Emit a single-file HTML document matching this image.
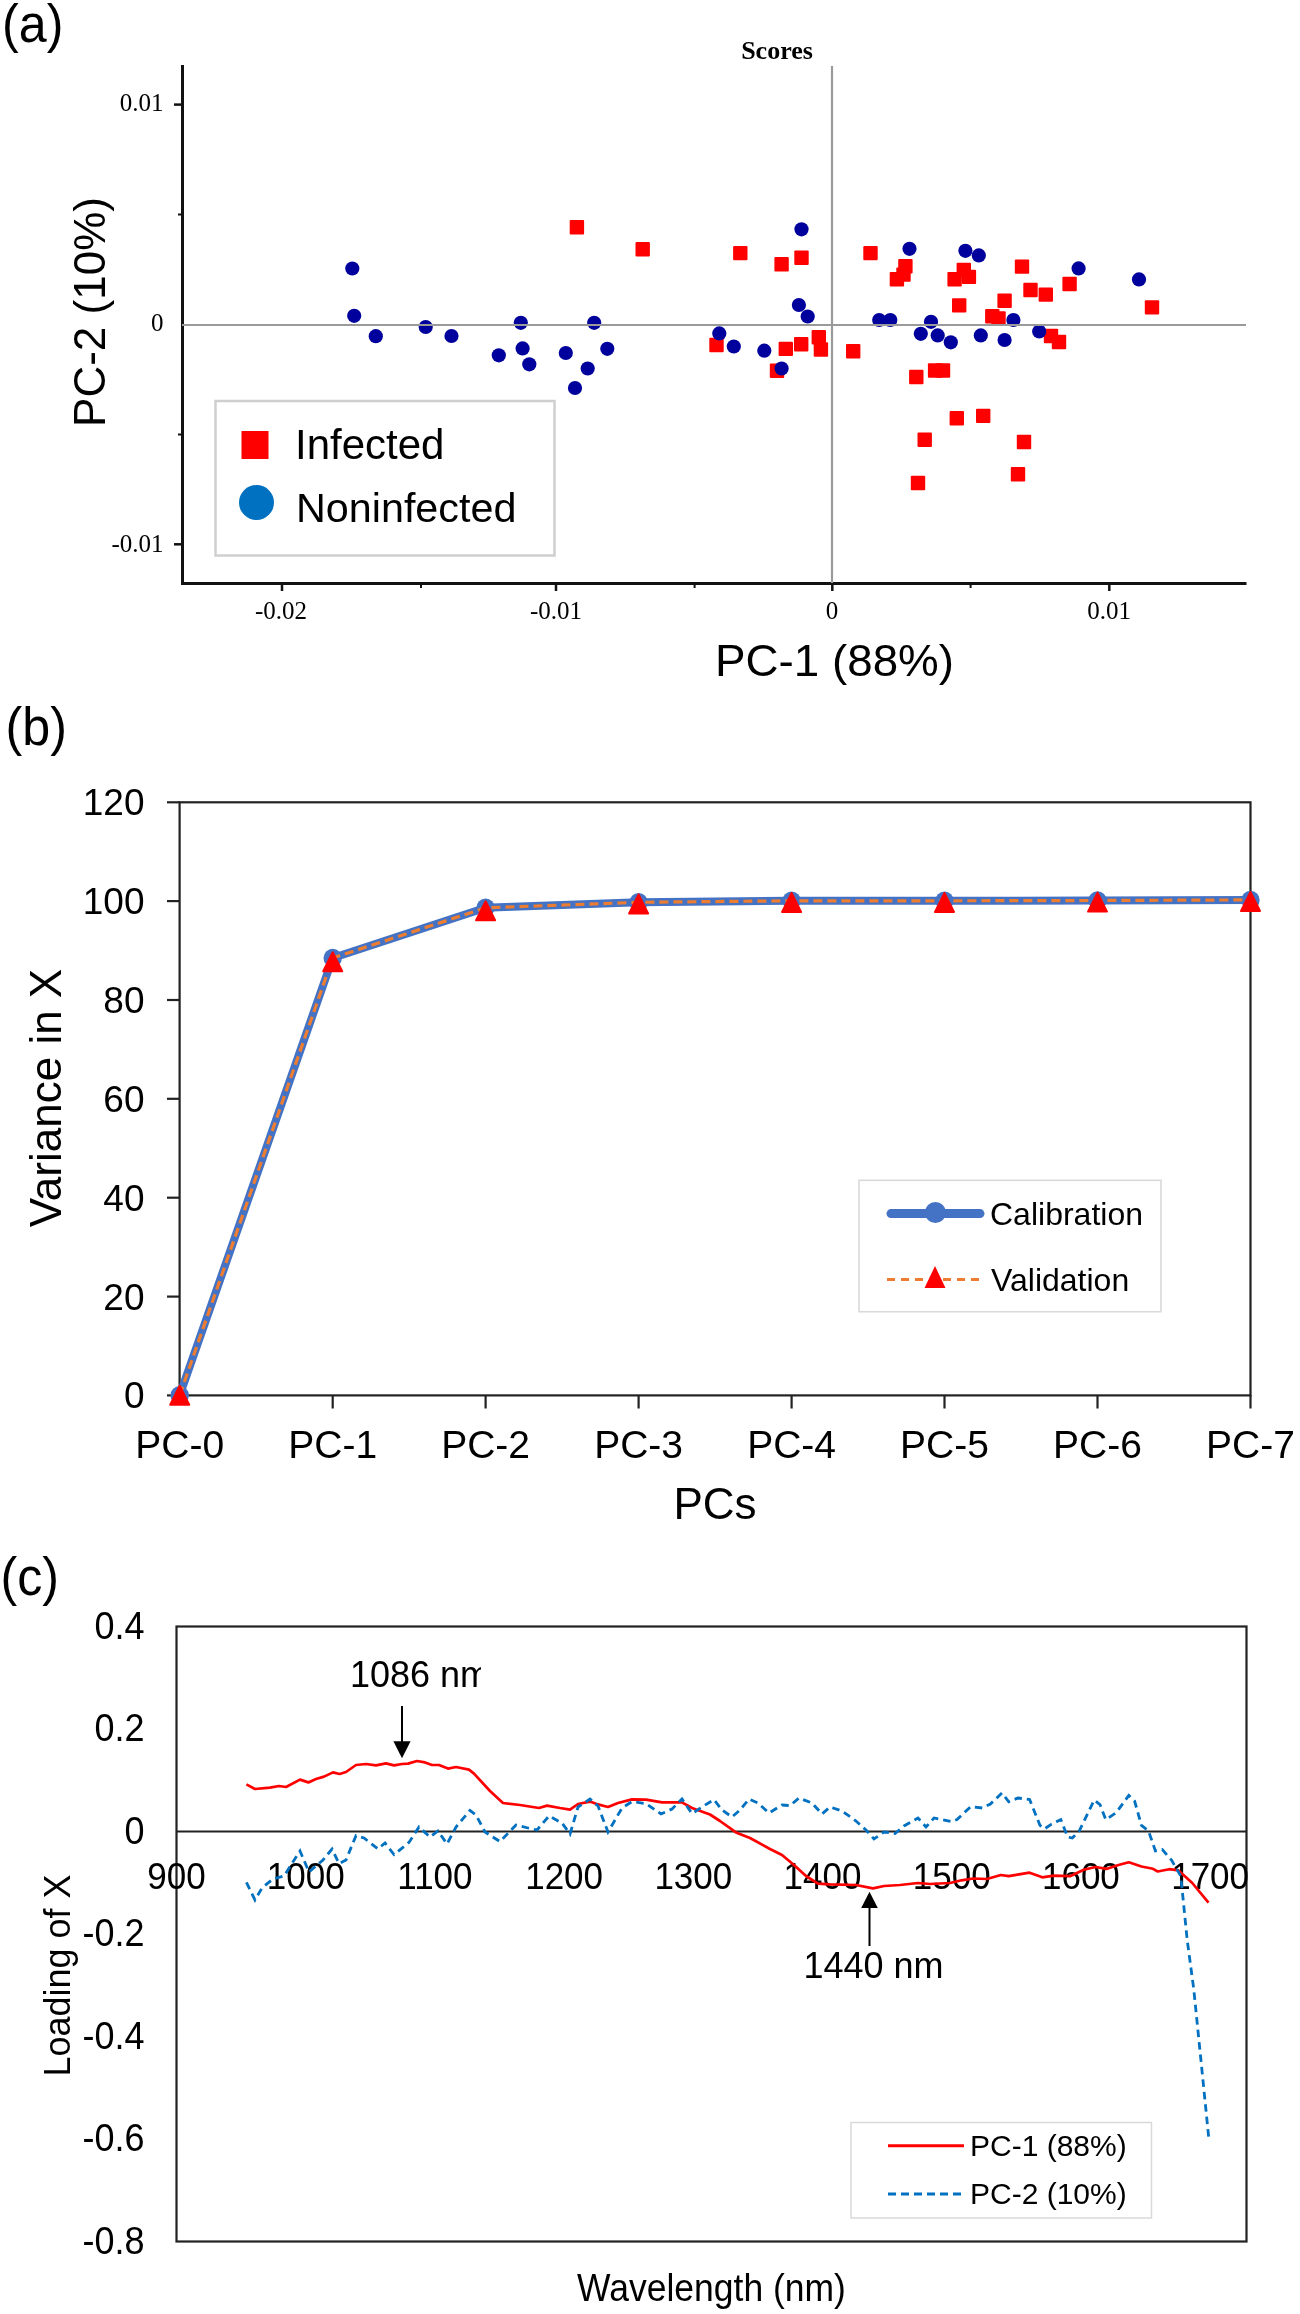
<!DOCTYPE html>
<html><head><meta charset="utf-8"><title>Figure</title>
<style>html,body{margin:0;padding:0;background:#fff;}body{width:1300px;height:2314px;overflow:hidden;}svg{display:block;filter:blur(0.45px);}</style>
</head><body>
<svg width="1300" height="2314" viewBox="0 0 1300 2314">
<rect x="0" y="0" width="1300" height="2314" fill="#fff"/>
<text transform="translate(2,42) scale(0.93,1)" font-family='"Liberation Sans", sans-serif' font-size="54">(a)</text>
<text x="777" y="59" text-anchor="middle" font-family='"Liberation Serif", serif' font-weight="bold" font-size="26">Scores</text>
<polyline points="182.5,65 182.5,583.5 1246.5,583.5" fill="none" stroke="#111" stroke-width="3"/>
<line x1="174" y1="104.6" x2="182" y2="104.6" stroke="#111" stroke-width="2.5"/>
<line x1="174" y1="544.3" x2="182" y2="544.3" stroke="#111" stroke-width="2.5"/>
<line x1="178" y1="214.5" x2="182" y2="214.5" stroke="#111" stroke-width="2"/>
<line x1="178" y1="434.5" x2="182" y2="434.5" stroke="#111" stroke-width="2"/>
<line x1="282.0" y1="583" x2="282.0" y2="591" stroke="#111" stroke-width="2.5"/>
<line x1="556.0" y1="583" x2="556.0" y2="591" stroke="#111" stroke-width="2.5"/>
<line x1="832.3" y1="583" x2="832.3" y2="591" stroke="#111" stroke-width="2.5"/>
<line x1="1109.3" y1="583" x2="1109.3" y2="591" stroke="#111" stroke-width="2.5"/>
<line x1="421.0" y1="583" x2="421.0" y2="588" stroke="#111" stroke-width="2"/>
<line x1="694.6" y1="583" x2="694.6" y2="588" stroke="#111" stroke-width="2"/>
<line x1="970.6" y1="583" x2="970.6" y2="588" stroke="#111" stroke-width="2"/>
<text x="163.5" y="111" text-anchor="end" font-family='"Liberation Serif", serif' font-size="25">0.01</text>
<text x="163.5" y="331" text-anchor="end" font-family='"Liberation Serif", serif' font-size="25">0</text>
<text x="163.5" y="552" text-anchor="end" font-family='"Liberation Serif", serif' font-size="25">-0.01</text>
<text x="281" y="619" text-anchor="middle" font-family='"Liberation Serif", serif' font-size="25">-0.02</text>
<text x="556" y="619" text-anchor="middle" font-family='"Liberation Serif", serif' font-size="25">-0.01</text>
<text x="832" y="619" text-anchor="middle" font-family='"Liberation Serif", serif' font-size="25">0</text>
<text x="1109" y="619" text-anchor="middle" font-family='"Liberation Serif", serif' font-size="25">0.01</text>
<text transform="translate(834.5,676) scale(1.04,1)" text-anchor="middle" font-family='"Liberation Sans", sans-serif' font-size="44">PC-1 (88%)</text>
<text transform="translate(104.5,312) rotate(-90)" text-anchor="middle" font-family='"Liberation Sans", sans-serif' font-size="44">PC-2 (10%)</text>
<rect x="569.7" y="220.0" width="14.4" height="14.4" rx="1" fill="#ff0000"/>
<rect x="635.5" y="242.0" width="14.4" height="14.4" rx="1" fill="#ff0000"/>
<rect x="733.1" y="245.9" width="14.4" height="14.4" rx="1" fill="#ff0000"/>
<rect x="774.4" y="257.0" width="14.4" height="14.4" rx="1" fill="#ff0000"/>
<rect x="794.3" y="250.5" width="14.4" height="14.4" rx="1" fill="#ff0000"/>
<rect x="863.3" y="245.9" width="14.4" height="14.4" rx="1" fill="#ff0000"/>
<rect x="709.3" y="337.8" width="14.4" height="14.4" rx="1" fill="#ff0000"/>
<rect x="778.6" y="341.7" width="14.4" height="14.4" rx="1" fill="#ff0000"/>
<rect x="794.0" y="337.0" width="14.4" height="14.4" rx="1" fill="#ff0000"/>
<rect x="811.6" y="330.1" width="14.4" height="14.4" rx="1" fill="#ff0000"/>
<rect x="813.7" y="342.3" width="14.4" height="14.4" rx="1" fill="#ff0000"/>
<rect x="769.8" y="363.6" width="14.4" height="14.4" rx="1" fill="#ff0000"/>
<rect x="846.0" y="344.0" width="14.4" height="14.4" rx="1" fill="#ff0000"/>
<rect x="898.2" y="259.0" width="14.4" height="14.4" rx="1" fill="#ff0000"/>
<rect x="896.3" y="267.4" width="14.4" height="14.4" rx="1" fill="#ff0000"/>
<rect x="889.7" y="272.0" width="14.4" height="14.4" rx="1" fill="#ff0000"/>
<rect x="956.6" y="262.8" width="14.4" height="14.4" rx="1" fill="#ff0000"/>
<rect x="961.7" y="269.7" width="14.4" height="14.4" rx="1" fill="#ff0000"/>
<rect x="947.4" y="272.0" width="14.4" height="14.4" rx="1" fill="#ff0000"/>
<rect x="1014.8" y="259.4" width="14.4" height="14.4" rx="1" fill="#ff0000"/>
<rect x="1023.3" y="282.8" width="14.4" height="14.4" rx="1" fill="#ff0000"/>
<rect x="1038.6" y="287.4" width="14.4" height="14.4" rx="1" fill="#ff0000"/>
<rect x="952.0" y="298.2" width="14.4" height="14.4" rx="1" fill="#ff0000"/>
<rect x="997.4" y="293.6" width="14.4" height="14.4" rx="1" fill="#ff0000"/>
<rect x="985.1" y="309.0" width="14.4" height="14.4" rx="1" fill="#ff0000"/>
<rect x="991.3" y="311.3" width="14.4" height="14.4" rx="1" fill="#ff0000"/>
<rect x="1043.8" y="328.8" width="14.4" height="14.4" rx="1" fill="#ff0000"/>
<rect x="1051.8" y="334.8" width="14.4" height="14.4" rx="1" fill="#ff0000"/>
<rect x="1062.4" y="276.8" width="14.4" height="14.4" rx="1" fill="#ff0000"/>
<rect x="1144.8" y="300.2" width="14.4" height="14.4" rx="1" fill="#ff0000"/>
<rect x="909.1" y="369.8" width="14.4" height="14.4" rx="1" fill="#ff0000"/>
<rect x="927.9" y="363.3" width="14.4" height="14.4" rx="1" fill="#ff0000"/>
<rect x="935.8" y="363.3" width="14.4" height="14.4" rx="1" fill="#ff0000"/>
<rect x="949.6" y="411.0" width="14.4" height="14.4" rx="1" fill="#ff0000"/>
<rect x="976.0" y="408.7" width="14.4" height="14.4" rx="1" fill="#ff0000"/>
<rect x="917.5" y="432.5" width="14.4" height="14.4" rx="1" fill="#ff0000"/>
<rect x="1016.8" y="434.8" width="14.4" height="14.4" rx="1" fill="#ff0000"/>
<rect x="910.8" y="475.8" width="14.4" height="14.4" rx="1" fill="#ff0000"/>
<rect x="1010.8" y="467.1" width="14.4" height="14.4" rx="1" fill="#ff0000"/>
<circle cx="352.3" cy="268.5" r="7.1" fill="#00009c"/>
<circle cx="354.2" cy="315.8" r="7.1" fill="#00009c"/>
<circle cx="375.8" cy="336.2" r="7.1" fill="#00009c"/>
<circle cx="425.7" cy="327.0" r="7.1" fill="#00009c"/>
<circle cx="451.5" cy="336.0" r="7.1" fill="#00009c"/>
<circle cx="498.8" cy="355.3" r="7.1" fill="#00009c"/>
<circle cx="520.8" cy="322.8" r="7.1" fill="#00009c"/>
<circle cx="522.6" cy="348.4" r="7.1" fill="#00009c"/>
<circle cx="529.3" cy="364.3" r="7.1" fill="#00009c"/>
<circle cx="565.8" cy="353.0" r="7.1" fill="#00009c"/>
<circle cx="594.2" cy="322.8" r="7.1" fill="#00009c"/>
<circle cx="607.3" cy="348.8" r="7.1" fill="#00009c"/>
<circle cx="587.7" cy="368.5" r="7.1" fill="#00009c"/>
<circle cx="575.0" cy="388.0" r="7.1" fill="#00009c"/>
<circle cx="801.5" cy="229.3" r="7.1" fill="#00009c"/>
<circle cx="798.9" cy="305.0" r="7.1" fill="#00009c"/>
<circle cx="807.7" cy="316.5" r="7.1" fill="#00009c"/>
<circle cx="719.3" cy="333.4" r="7.1" fill="#00009c"/>
<circle cx="733.8" cy="346.5" r="7.1" fill="#00009c"/>
<circle cx="764.3" cy="350.7" r="7.1" fill="#00009c"/>
<circle cx="781.6" cy="368.5" r="7.1" fill="#00009c"/>
<circle cx="909.5" cy="248.8" r="7.1" fill="#00009c"/>
<circle cx="965.4" cy="250.8" r="7.1" fill="#00009c"/>
<circle cx="978.8" cy="255.4" r="7.1" fill="#00009c"/>
<circle cx="879.2" cy="320.0" r="7.1" fill="#00009c"/>
<circle cx="890.3" cy="320.0" r="7.1" fill="#00009c"/>
<circle cx="931.0" cy="321.8" r="7.1" fill="#00009c"/>
<circle cx="920.8" cy="333.8" r="7.1" fill="#00009c"/>
<circle cx="937.7" cy="335.4" r="7.1" fill="#00009c"/>
<circle cx="950.8" cy="342.3" r="7.1" fill="#00009c"/>
<circle cx="980.8" cy="335.4" r="7.1" fill="#00009c"/>
<circle cx="1004.6" cy="340.0" r="7.1" fill="#00009c"/>
<circle cx="1013.4" cy="320.0" r="7.1" fill="#00009c"/>
<circle cx="1039.2" cy="331.5" r="7.1" fill="#00009c"/>
<circle cx="1078.6" cy="268.4" r="7.1" fill="#00009c"/>
<circle cx="1139.0" cy="279.4" r="7.1" fill="#00009c"/>
<line x1="182" y1="325" x2="1246" y2="325" stroke="#9a9a9a" stroke-width="2.2"/>
<line x1="832" y1="66" x2="832" y2="583" stroke="#9a9a9a" stroke-width="2.2"/>
<rect x="215.5" y="401" width="339" height="154.5" fill="#fff" stroke="#cfcfcf" stroke-width="2.5"/>
<rect x="241.5" y="431" width="27" height="28" fill="#ff0000"/>
<circle cx="256.5" cy="502.5" r="17.5" fill="#0070c0"/>
<text x="295" y="459" font-family='"Liberation Sans", sans-serif' font-size="42">Infected</text>
<text x="296" y="521.5" font-family='"Liberation Sans", sans-serif' font-size="41.3">Noninfected</text>
<text transform="translate(5.5,745) scale(0.93,1)" font-family='"Liberation Sans", sans-serif' font-size="54">(b)</text>
<rect x="179.6" y="802.3" width="1070.9" height="593.1" fill="none" stroke="#222" stroke-width="2.2"/>
<line x1="167" y1="802.3" x2="180" y2="802.3" stroke="#222" stroke-width="2.2"/>
<text x="144.5" y="815.3" text-anchor="end" font-family='"Liberation Sans", sans-serif' font-size="37">120</text>
<line x1="167" y1="901.1" x2="180" y2="901.1" stroke="#222" stroke-width="2.2"/>
<text x="144.5" y="914.1" text-anchor="end" font-family='"Liberation Sans", sans-serif' font-size="37">100</text>
<line x1="167" y1="1000.0" x2="180" y2="1000.0" stroke="#222" stroke-width="2.2"/>
<text x="144.5" y="1013.0" text-anchor="end" font-family='"Liberation Sans", sans-serif' font-size="37">80</text>
<line x1="167" y1="1098.8" x2="180" y2="1098.8" stroke="#222" stroke-width="2.2"/>
<text x="144.5" y="1111.8" text-anchor="end" font-family='"Liberation Sans", sans-serif' font-size="37">60</text>
<line x1="167" y1="1197.7" x2="180" y2="1197.7" stroke="#222" stroke-width="2.2"/>
<text x="144.5" y="1210.7" text-anchor="end" font-family='"Liberation Sans", sans-serif' font-size="37">40</text>
<line x1="167" y1="1296.6" x2="180" y2="1296.6" stroke="#222" stroke-width="2.2"/>
<text x="144.5" y="1309.6" text-anchor="end" font-family='"Liberation Sans", sans-serif' font-size="37">20</text>
<line x1="167" y1="1395.4" x2="180" y2="1395.4" stroke="#222" stroke-width="2.2"/>
<text x="144.5" y="1408.4" text-anchor="end" font-family='"Liberation Sans", sans-serif' font-size="37">0</text>
<text x="179.7" y="1457.7" text-anchor="middle" font-family='"Liberation Sans", sans-serif' font-size="39">PC-0</text>
<line x1="332.7" y1="1395" x2="332.7" y2="1408.5" stroke="#222" stroke-width="2.2"/>
<text x="332.7" y="1457.7" text-anchor="middle" font-family='"Liberation Sans", sans-serif' font-size="39">PC-1</text>
<line x1="485.6" y1="1395" x2="485.6" y2="1408.5" stroke="#222" stroke-width="2.2"/>
<text x="485.6" y="1457.7" text-anchor="middle" font-family='"Liberation Sans", sans-serif' font-size="39">PC-2</text>
<line x1="638.6" y1="1395" x2="638.6" y2="1408.5" stroke="#222" stroke-width="2.2"/>
<text x="638.6" y="1457.7" text-anchor="middle" font-family='"Liberation Sans", sans-serif' font-size="39">PC-3</text>
<line x1="791.6" y1="1395" x2="791.6" y2="1408.5" stroke="#222" stroke-width="2.2"/>
<text x="791.6" y="1457.7" text-anchor="middle" font-family='"Liberation Sans", sans-serif' font-size="39">PC-4</text>
<line x1="944.5" y1="1395" x2="944.5" y2="1408.5" stroke="#222" stroke-width="2.2"/>
<text x="944.5" y="1457.7" text-anchor="middle" font-family='"Liberation Sans", sans-serif' font-size="39">PC-5</text>
<line x1="1097.5" y1="1395" x2="1097.5" y2="1408.5" stroke="#222" stroke-width="2.2"/>
<text x="1097.5" y="1457.7" text-anchor="middle" font-family='"Liberation Sans", sans-serif' font-size="39">PC-6</text>
<line x1="1250.5" y1="1395" x2="1250.5" y2="1408.5" stroke="#222" stroke-width="2.2"/>
<text x="1250.5" y="1457.7" text-anchor="middle" font-family='"Liberation Sans", sans-serif' font-size="39">PC-7</text>
<text x="715" y="1518.5" text-anchor="middle" font-family='"Liberation Sans", sans-serif' font-size="44">PCs</text>
<text transform="translate(60.6,1098) rotate(-90)" text-anchor="middle" font-family='"Liberation Sans", sans-serif' font-size="44">Variance in X</text>
<polyline points="179.7,1395.2 332.7,958.0 485.6,907.8 638.6,902.3 791.6,900.8 944.5,900.8 1097.5,900.5 1250.5,899.9" fill="none" stroke="#4472c4" stroke-width="8" stroke-linejoin="round"/>
<circle cx="179.7" cy="1395.2" r="9.2" fill="#4472c4"/>
<circle cx="332.7" cy="958.0" r="9.2" fill="#4472c4"/>
<circle cx="485.6" cy="907.8" r="9.2" fill="#4472c4"/>
<circle cx="638.6" cy="902.3" r="9.2" fill="#4472c4"/>
<circle cx="791.6" cy="900.8" r="9.2" fill="#4472c4"/>
<circle cx="944.5" cy="900.8" r="9.2" fill="#4472c4"/>
<circle cx="1097.5" cy="900.5" r="9.2" fill="#4472c4"/>
<circle cx="1250.5" cy="899.9" r="9.2" fill="#4472c4"/>
<polyline points="179.7,1395.2 332.7,958.0 485.6,907.8 638.6,902.3 791.6,900.8 944.5,900.8 1097.5,900.5 1250.5,899.9" fill="none" stroke="#ed7d31" stroke-width="3.2" stroke-dasharray="9,5"/>
<polygon points="179.7,1385.8 170.2,1404.8 189.2,1404.8" fill="#ff0000" stroke="#ff0000" stroke-width="2" stroke-linejoin="round"/>
<polygon points="332.7,952.3 323.2,971.3 342.2,971.3" fill="#ff0000" stroke="#ff0000" stroke-width="2" stroke-linejoin="round"/>
<polygon points="485.6,901.3 476.1,920.3 495.1,920.3" fill="#ff0000" stroke="#ff0000" stroke-width="2" stroke-linejoin="round"/>
<polygon points="638.6,894.5 629.1,913.5 648.1,913.5" fill="#ff0000" stroke="#ff0000" stroke-width="2" stroke-linejoin="round"/>
<polygon points="791.6,893.0 782.1,912.0 801.1,912.0" fill="#ff0000" stroke="#ff0000" stroke-width="2" stroke-linejoin="round"/>
<polygon points="944.5,893.0 935.0,912.0 954.0,912.0" fill="#ff0000" stroke="#ff0000" stroke-width="2" stroke-linejoin="round"/>
<polygon points="1097.5,892.6 1088.0,911.6 1107.0,911.6" fill="#ff0000" stroke="#ff0000" stroke-width="2" stroke-linejoin="round"/>
<polygon points="1250.5,892.0 1241.0,911.0 1260.0,911.0" fill="#ff0000" stroke="#ff0000" stroke-width="2" stroke-linejoin="round"/>
<rect x="859" y="1180.3" width="302" height="131.4" fill="#fff" stroke="#d9d9d9" stroke-width="1.6"/>
<line x1="891" y1="1213.6" x2="980" y2="1213.6" stroke="#4472c4" stroke-width="9" stroke-linecap="round"/>
<circle cx="935.4" cy="1212.5" r="10.5" fill="#4472c4"/>
<text x="990" y="1225.4" font-family='"Liberation Sans", sans-serif' font-size="32">Calibration</text>
<line x1="887" y1="1279.5" x2="982" y2="1279.5" stroke="#ed7d31" stroke-width="3.2" stroke-dasharray="8,6"/>
<polygon points="935,1266 924.5,1288 945.5,1288" fill="#ff0000"/>
<text x="991" y="1290.7" font-family='"Liberation Sans", sans-serif' font-size="32">Validation</text>
<text transform="translate(0.5,1595) scale(0.93,1)" font-family='"Liberation Sans", sans-serif' font-size="54">(c)</text>
<rect x="176.5" y="1626.5" width="1070.0" height="615.0" fill="none" stroke="#222" stroke-width="2.2"/>
<line x1="176.5" y1="1831.5" x2="1246.5" y2="1831.5" stroke="#222" stroke-width="2.2"/>
<text transform="translate(144.5,1638.7) scale(1,1.09)" text-anchor="end" font-family='"Liberation Sans", sans-serif' font-size="36">0.4</text>
<text transform="translate(144.5,1741.2) scale(1,1.09)" text-anchor="end" font-family='"Liberation Sans", sans-serif' font-size="36">0.2</text>
<text transform="translate(144.5,1843.7) scale(1,1.09)" text-anchor="end" font-family='"Liberation Sans", sans-serif' font-size="36">0</text>
<text transform="translate(144.5,1946.2) scale(1,1.09)" text-anchor="end" font-family='"Liberation Sans", sans-serif' font-size="36">-0.2</text>
<text transform="translate(144.5,2048.7) scale(1,1.09)" text-anchor="end" font-family='"Liberation Sans", sans-serif' font-size="36">-0.4</text>
<text transform="translate(144.5,2151.2) scale(1,1.09)" text-anchor="end" font-family='"Liberation Sans", sans-serif' font-size="36">-0.6</text>
<text transform="translate(144.5,2253.7) scale(1,1.09)" text-anchor="end" font-family='"Liberation Sans", sans-serif' font-size="36">-0.8</text>
<text transform="translate(176.5,1888.5) scale(1,1.07)" text-anchor="middle" font-family='"Liberation Sans", sans-serif' font-size="35">900</text>
<text transform="translate(305.7,1888.5) scale(1,1.07)" text-anchor="middle" font-family='"Liberation Sans", sans-serif' font-size="35">1000</text>
<text transform="translate(434.9,1888.5) scale(1,1.07)" text-anchor="middle" font-family='"Liberation Sans", sans-serif' font-size="35">1100</text>
<text transform="translate(564.1,1888.5) scale(1,1.07)" text-anchor="middle" font-family='"Liberation Sans", sans-serif' font-size="35">1200</text>
<text transform="translate(693.3,1888.5) scale(1,1.07)" text-anchor="middle" font-family='"Liberation Sans", sans-serif' font-size="35">1300</text>
<text transform="translate(822.5,1888.5) scale(1,1.07)" text-anchor="middle" font-family='"Liberation Sans", sans-serif' font-size="35">1400</text>
<text transform="translate(951.7,1888.5) scale(1,1.07)" text-anchor="middle" font-family='"Liberation Sans", sans-serif' font-size="35">1500</text>
<text transform="translate(1080.9,1888.5) scale(1,1.07)" text-anchor="middle" font-family='"Liberation Sans", sans-serif' font-size="35">1600</text>
<text transform="translate(1210.1,1888.5) scale(1,1.07)" text-anchor="middle" font-family='"Liberation Sans", sans-serif' font-size="35">1700</text>
<polyline points="246.4,1784.4 255.0,1789.0 270.0,1787.6 279.0,1786.0 286.0,1787.0 300.0,1779.6 308.4,1782.4 316.0,1779.0 324.0,1776.6 333.0,1772.4 339.6,1774.0 346.0,1772.0 356.0,1765.0 366.0,1764.0 376.0,1765.4 386.0,1763.4 394.0,1765.4 402.0,1764.0 408.0,1763.6 417.0,1761.0 425.0,1762.4 432.0,1765.0 439.0,1765.0 448.0,1768.6 456.0,1767.0 469.0,1769.6 474.0,1773.6 490.0,1791.0 503.0,1803.0 520.0,1805.0 539.0,1808.0 547.0,1805.6 560.0,1808.0 570.0,1809.6 578.0,1804.0 590.0,1801.6 598.0,1804.4 608.0,1807.0 618.0,1803.0 632.0,1799.4 646.0,1799.6 662.0,1802.4 682.0,1802.4 692.0,1808.0 710.0,1814.5 720.0,1821.0 736.0,1832.4 750.0,1838.0 770.0,1849.0 782.0,1855.0 794.0,1865.0 806.0,1876.0 818.0,1883.6 830.0,1884.4 856.0,1885.0 873.0,1888.4 884.0,1886.0 900.0,1885.0 918.0,1883.0 930.0,1884.0 950.0,1883.0 961.5,1880.3 973.0,1878.5 987.0,1879.0 1000.8,1875.0 1008.8,1876.2 1019.0,1874.3 1029.6,1872.7 1042.3,1877.3 1053.8,1875.7 1070.0,1876.2 1083.8,1869.7 1095.4,1867.0 1107.0,1868.8 1118.5,1865.0 1128.8,1862.3 1141.5,1866.5 1153.0,1868.8 1157.7,1871.5 1169.2,1869.2 1178.5,1870.4 1192.3,1883.0 1208.5,1902.7" fill="none" stroke="#ff0000" stroke-width="2.7" stroke-linejoin="round"/>
<polyline points="246.4,1882.4 255.0,1900.0 262.0,1888.0 273.0,1879.0 284.0,1876.0 300.0,1851.0 309.0,1872.0 316.0,1866.0 323.0,1860.0 332.0,1849.0 339.0,1863.6 346.0,1860.0 356.0,1835.6 364.0,1838.0 378.0,1849.0 385.0,1843.0 394.0,1854.6 409.0,1842.4 419.0,1827.0 430.0,1837.0 438.0,1831.0 447.0,1844.0 456.0,1827.0 470.0,1810.5 476.0,1815.0 485.0,1832.0 500.0,1841.6 516.0,1825.0 528.0,1828.0 537.0,1830.0 549.0,1816.0 562.0,1823.0 570.0,1834.0 578.0,1807.0 590.0,1799.0 598.0,1806.0 608.0,1832.0 622.0,1808.0 632.0,1801.6 646.0,1803.6 661.0,1814.0 672.0,1809.0 682.0,1799.0 692.0,1813.6 702.0,1807.0 714.0,1799.6 722.0,1810.0 732.0,1817.0 740.0,1810.0 749.0,1799.0 758.0,1803.0 769.0,1813.0 782.0,1805.0 790.0,1805.6 799.0,1798.0 812.0,1803.0 822.0,1814.0 830.0,1807.0 842.0,1811.0 856.0,1821.0 866.0,1830.0 874.0,1839.0 884.0,1832.0 895.0,1833.6 904.0,1826.0 918.0,1818.0 926.0,1827.0 934.0,1818.0 952.0,1821.6 957.0,1819.6 970.8,1806.5 982.3,1808.0 990.4,1804.0 1002.0,1793.0 1008.8,1801.8 1018.0,1798.0 1029.6,1799.5 1040.0,1825.4 1044.6,1828.8 1051.5,1824.2 1060.8,1819.6 1067.7,1837.0 1072.3,1838.0 1079.2,1831.0 1094.2,1800.0 1100.0,1804.6 1105.8,1819.6 1116.2,1812.7 1128.8,1795.4 1134.6,1801.0 1141.5,1825.4 1148.5,1831.0 1155.4,1850.8 1162.3,1849.6 1171.5,1860.0 1180.8,1876.2 1187.2,1940.0 1193.8,1989.6 1200.5,2055.8 1208.8,2138.5" fill="none" stroke="#0070c0" stroke-width="2.8" stroke-dasharray="7.5,5"/>
<text transform="translate(711.5,2300.5) scale(1,1.1)" text-anchor="middle" font-family='"Liberation Sans", sans-serif' font-size="35.5">Wavelength (nm)</text>
<text transform="translate(69.5,1975.5) rotate(-90)" text-anchor="middle" font-family='"Liberation Sans", sans-serif' font-size="36">Loading of X</text>
<clipPath id="clip1086"><rect x="340" y="1640" width="141" height="60"/></clipPath>
<text x="350" y="1687" clip-path="url(#clip1086)" font-family='"Liberation Sans", sans-serif' font-size="36">1086 nm</text>
<line x1="402" y1="1706" x2="402" y2="1742" stroke="#000" stroke-width="2"/>
<polygon points="393.4,1741.3 410.6,1741.3 402,1758.3" fill="#000"/>
<line x1="869.5" y1="1907" x2="869.5" y2="1946" stroke="#000" stroke-width="2"/>
<polygon points="861.2,1908 877.8,1908 869.5,1891.8" fill="#000"/>
<text x="803.5" y="1978" font-family='"Liberation Sans", sans-serif' font-size="36">1440 nm</text>
<rect x="851" y="2122.5" width="300.5" height="95.5" fill="#fff" stroke="#d9d9d9" stroke-width="1.5"/>
<line x1="888" y1="2145.7" x2="964" y2="2145.7" stroke="#ff0000" stroke-width="3"/>
<text x="970" y="2155.7" font-family='"Liberation Sans", sans-serif' font-size="30">PC-1 (88%)</text>
<line x1="888" y1="2194" x2="964" y2="2194" stroke="#0070c0" stroke-width="3" stroke-dasharray="8,5"/>
<text x="970" y="2203.5" font-family='"Liberation Sans", sans-serif' font-size="30">PC-2 (10%)</text>
</svg>
</body></html>
